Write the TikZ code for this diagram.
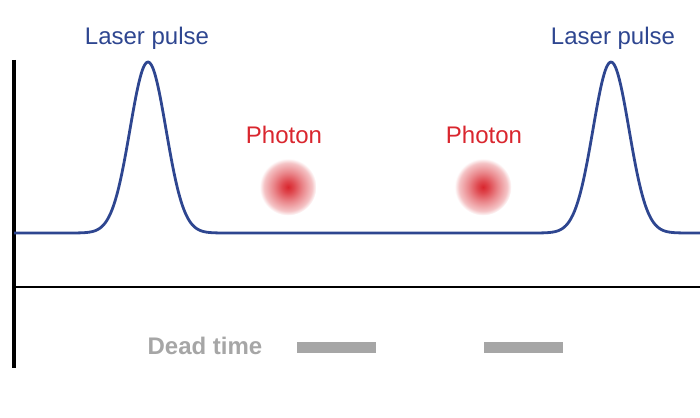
\documentclass[tikz,border=0pt]{standalone}
\usepackage{fontspec}
\setmainfont{Liberation Sans}
\usepackage{tikz}

\definecolor{pulseblue}{HTML}{2E4690}
\definecolor{photonred}{HTML}{D9262E}
\definecolor{deadgray}{HTML}{A6A6A6}

% soft glow for the photons, fades to white at the edge of the circle
\pgfdeclareradialshading{photonglow}{\pgfpoint{0bp}{0bp}}{%
    color(0bp)=(photonred); color(5bp)=(photonred!85); color(13bp)=(photonred!55);
    color(21bp)=(photonred!28); color(25bp)=(white); color(50bp)=(white)}

\tikzset{
    pulselabel/.style={text=pulseblue, font=\fontsize{24}{28}\selectfont},
    photonlabel/.style={text=photonred, font=\fontsize{24}{28}\selectfont},
    photonball/.style={shading=photonglow},
    deadbar/.style={fill=deadgray, draw=none}
}

\begin{document}
\begin{tikzpicture}[x=1pt, y=-1pt]
        \useasboundingbox (0,0) rectangle (700,417);

        % Axes
        \draw[black, line width=4pt] (14,60) -- (14,368);
        \draw[black, line width=2pt] (14,287) -- (700,287);

        % Signal with the two laser pulses
        \draw[pulseblue, line width=2.8pt, line join=round] plot[domain=14:700, samples=400, smooth]
            (\x, {233 - 171*exp(-((\x-148)/18)^2/2) - 171*exp(-((\x-611)/18)^2/2)});

        % Labels for the pulses
        \node[pulselabel] (laserA) at (147,38) {Laser pulse};
        \node[pulselabel] (laserB) at (613,38) {Laser pulse};

        % Photons
        \node[photonlabel] (photonA) at (284,135) {Photon};
        \node[photonlabel] (photonB) at (484,135) {Photon};
        \shade[photonball] (288,187) circle (28.5);
        \shade[photonball] (483,187) circle (28.5);

        % Dead time
        \node[text=deadgray, font=\bfseries\fontsize{24}{28}\selectfont] (dead) at (205,346) {Dead time};
        \path[deadbar] (297,342) rectangle (376,353);
        \path[deadbar] (484,342) rectangle (563,353);
    \end{tikzpicture}
\end{document}
